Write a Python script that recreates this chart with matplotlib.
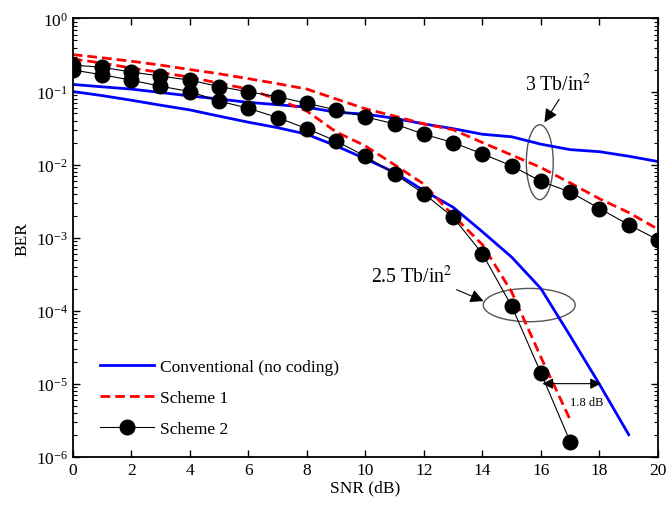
import numpy as np
import matplotlib
matplotlib.use("Agg")
import matplotlib.pyplot as plt
from matplotlib.patches import Ellipse
from matplotlib.ticker import LogLocator, MultipleLocator, NullFormatter

plt.rcParams['font.family'] = ['Liberation Serif', 'DejaVu Serif']
plt.rcParams['mathtext.fontset'] = 'stix'
plt.rcParams['axes.unicode_minus'] = False

# SNR grids
snr = list(range(0, 21))
snr_conv_low = list(range(0, 20))
snr_s1_low = list(range(0, 18))
snr_s2_low = list(range(0, 18))

# 3 Tb/in^2 curves
conv_3tb = [0.125, 0.116, 0.108, 0.097, 0.087, 0.079, 0.071, 0.066, 0.061, 0.052, 0.049,
            0.043, 0.036, 0.031, 0.026, 0.024, 0.019, 0.016, 0.015, 0.013, 0.011]
s1_3tb = [0.32, 0.29, 0.26, 0.23, 0.20, 0.175, 0.15, 0.128, 0.108, 0.079, 0.058,
          0.046, 0.036, 0.030, 0.020, 0.0135, 0.0091, 0.0056, 0.0034, 0.0022, 0.0013]
s2_3tb = [0.23, 0.215, 0.185, 0.163, 0.143, 0.117, 0.099, 0.085, 0.069, 0.056, 0.045,
          0.036, 0.026, 0.020, 0.014, 0.0096, 0.0059, 0.0042, 0.0025, 0.0015, 0.00093]

# 2.5 Tb/in^2 curves
conv_25tb = [0.10, 0.088, 0.076, 0.065, 0.056, 0.046, 0.038, 0.032, 0.026, 0.018, 0.012,
             0.0078, 0.0044, 0.0026, 0.0012, 5.4e-4, 2.0e-4, 4.5e-5, 9.8e-6, 2.0e-6]
s1_25tb = [0.28, 0.245, 0.21, 0.182, 0.157, 0.13, 0.108, 0.078, 0.054, 0.028, 0.018,
           0.0099, 0.0054, 0.0020, 8e-4, 1.8e-4, 2.3e-5, 3.2e-6]
s2_25tb = [0.197, 0.17, 0.143, 0.118, 0.10, 0.074, 0.059, 0.044, 0.031, 0.021, 0.013,
           0.0074, 0.0040, 0.0019, 6.0e-4, 1.15e-4, 1.4e-5, 1.6e-6]

y_ticks = [1e-6, 1e-5, 1e-4, 1e-3, 1e-2, 1e-1, 1]

fig = plt.figure(figsize=(6.67, 5.06), dpi=100)
ax = fig.add_axes([0.109, 0.0955, 0.8775, 0.866])

ax.semilogy(snr, conv_3tb, color='#0000ff', lw=2, label='Conventional (no coding)')
ax.semilogy(snr_conv_low, conv_25tb, color='#0000ff', lw=2)
ax.semilogy(snr, s1_3tb, color='#ff0000', lw=2, ls=(0, (3.5, 1.8)), label='Scheme 1')
ax.semilogy(snr_s1_low, s1_25tb, color='#ff0000', lw=2, ls=(0, (3.5, 1.8)))
ax.semilogy(snr, s2_3tb, color='black', lw=0.8, marker='o', ms=10.5, label='Scheme 2')
ax.semilogy(snr_s2_low, s2_25tb, color='black', lw=0.8, marker='o', ms=10.5)

ax.set_xlim(0, 20)
ax.set_ylim(1e-6, 1)
ax.xaxis.set_major_locator(MultipleLocator(2))
ax.set_yticks(y_ticks)
ax.yaxis.set_minor_locator(LogLocator(base=10, subs=np.arange(2, 10), numticks=100))
ax.yaxis.set_minor_formatter(NullFormatter())
ax.set_ylim(1e-6, 1)
ax.tick_params(which='both', direction='in', top=True, right=True, labelsize=12.5)
ax.tick_params(which='major', length=5, width=1)
ax.tick_params(which='minor', length=3, width=0.8)
for s in ax.spines.values():
    s.set_linewidth(1.3)

ax.set_xlabel('SNR (dB)', fontsize=12.5, labelpad=1)
ax.set_ylabel('BER', fontsize=12.5, labelpad=4)

# annotations
ax.add_patch(Ellipse((0.798, 0.672), 0.046, 0.171, transform=ax.transAxes,
                     fill=False, ec='#555555', lw=1))
ax.add_patch(Ellipse((0.780, 0.346), 0.157, 0.076, transform=ax.transAxes,
                     fill=False, ec='#555555', lw=1))
ax.annotate('3 Tb/in$^2$', xy=(0.806, 0.763), xytext=(0.773, 0.836),
            xycoords='axes fraction', textcoords='axes fraction', fontsize=14.2,
            arrowprops=dict(arrowstyle='-|>', color='black', lw=0.8,
                            mutation_scale=20, shrinkA=1, shrinkB=0,
                            relpos=(0.55, 0)))
ax.annotate('2.5 Tb/in$^2$', xy=(0.702, 0.355), xytext=(0.51, 0.398),
            xycoords='axes fraction', textcoords='axes fraction', fontsize=14.2,
            arrowprops=dict(arrowstyle='-|>', color='black', lw=0.8,
                            mutation_scale=20, shrinkA=1, shrinkB=0,
                            relpos=(0.98, 0)))
ax.annotate('', xy=(16.05, 1e-5), xytext=(18.05, 1e-5),
            arrowprops=dict(arrowstyle='<|-|>', color='black', lw=0.8,
                            mutation_scale=16, shrinkA=0, shrinkB=0))
ax.text(17.55, 5.6e-6, '1.8 dB', fontsize=9, ha='center', va='center')

ax.legend(loc='lower left', bbox_to_anchor=(0.02, 0.01), frameon=False,
          fontsize=12.5, handlelength=3.1, handletextpad=0.35, labelspacing=0.85)

fig.savefig('out.png', dpi=100)
